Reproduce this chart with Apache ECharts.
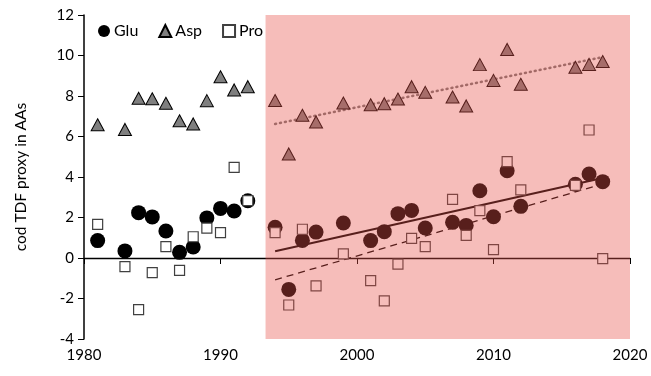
<!DOCTYPE html>
<html>
<head>
<meta charset="utf-8">
<script src="https://cdn.jsdelivr.net/npm/echarts@6/dist/echarts.min.js"></script>
<style>
  html, body { margin: 0; padding: 0; background: #fff; }
  #chart { width: 651px; height: 376px; }
</style>
</head>
<body>
<div id="chart"></div>
<script>
  // sampling years shared by all three amino acids
  const years = [1981, 1983, 1984, 1985, 1986, 1987, 1988, 1989, 1990, 1991, 1992,
    1994, 1995, 1996, 1997, 1999, 2001, 2002, 2003, 2004, 2005,
    2007, 2008, 2009, 2010, 2011, 2012, 2016, 2017, 2018];
  const glu = [0.86, 0.35, 2.24, 2.03, 1.33, 0.28, 0.54, 1.98, 2.45, 2.32, 2.83,
    1.52, -1.55, 0.87, 1.28, 1.73, 0.86, 1.3, 2.19, 2.35, 1.48,
    1.76, 1.61, 3.32, 2.04, 4.31, 2.55, 3.64, 4.15, 3.77];
  const asp = [6.58, 6.35, 7.89, 7.86, 7.64, 6.78, 6.62, 7.77, 8.95, 8.3, 8.46,
    7.78, 5.14, 7.05, 6.72, 7.65, 7.57, 7.62, 7.85, 8.46, 8.18,
    7.95, 7.51, 9.55, 8.77, 10.3, 8.58, 9.42, 9.56, 9.7];
  const pro = [1.66, -0.43, -2.55, -0.72, 0.56, -0.61, 1.05, 1.48, 1.25, 4.48, 2.83,
    1.25, -2.32, 1.42, -1.38, 0.2, -1.12, -2.12, -0.3, 0.97, 0.56,
    2.9, 1.12, 2.34, 0.41, 4.76, 3.36, 3.59, 6.32, -0.03];

  // linear trends (end points) for the recent period
  const gluTrend = [[1994, 0.33], [2018, 3.95]];
  const proTrend = [[1994, -1.08], [2018, 3.66]];
  const aspTrend = [[1994, 6.62], [2018, 9.92]];

  // shaded period
  const shadeStart = 1993.3;
  const shadeEnd = 2020;

  const xTicks = [1980, 2020, 10];
  const yTicks = [-4, 12, 2];

  const font = 'Lato, "Liberation Sans", sans-serif';
  const pair = (arr) => years.map((y, i) => [y, arr[i]]);

  const chart = echarts.init(document.getElementById('chart'));
  const option = {
    animation: false,
    textStyle: { fontFamily: font },
    grid: { left: 84, right: 21, top: 15, bottom: 37 },
    legend: {
      left: 93,
      top: 18,
      itemGap: 20,
      itemWidth: 12,
      itemHeight: 12,
      textStyle: { fontSize: 16, color: '#000', fontFamily: font, padding: [0, 0, 0, -1] },
      data: ['Glu', 'Asp', 'Pro'],
    },
    xAxis: {
      type: 'value',
      min: xTicks[0],
      max: xTicks[1],
      interval: xTicks[2],
      splitLine: { show: false },
      axisLine: { lineStyle: { color: '#000', width: 1.3 } },
      axisTick: { inside: false, length: 6, lineStyle: { color: '#000' } },
      axisLabel: { color: '#000', fontSize: 15, margin: 9, fontFamily: font, formatter: (v) => String(v) },
    },
    yAxis: {
      type: 'value',
      min: yTicks[0],
      max: yTicks[1],
      interval: yTicks[2],
      name: 'cod TDF proxy in AAs',
      nameLocation: 'middle',
      nameGap: 55,
      nameTextStyle: { color: '#000', fontSize: 15.5, fontFamily: font },
      splitLine: { show: false },
      axisLine: { show: true, lineStyle: { color: '#000', width: 1.5 } },
      axisTick: { show: true, length: 6, lineStyle: { color: '#000' } },
      axisLabel: { color: '#000', fontSize: 15, margin: 10, fontFamily: font },
    },
    series: [
      {
        name: 'aspTrend',
        type: 'line',
        data: aspTrend,
        symbol: 'none',
        lineStyle: { color: '#7a7a7a', width: 2.5, type: [1, 4], cap: 'round' },
        z: 1,
      },
      {
        name: 'gluTrend',
        type: 'line',
        data: gluTrend,
        symbol: 'none',
        lineStyle: { color: '#000', width: 2 },
        z: 1,
      },
      {
        name: 'proTrend',
        type: 'line',
        data: proTrend,
        symbol: 'none',
        lineStyle: { color: '#000', width: 1.3, type: [7, 5] },
        z: 1,
      },
      {
        name: 'Glu',
        type: 'scatter',
        data: pair(glu),
        symbol: 'circle',
        symbolSize: 15,
        itemStyle: { color: '#000', opacity: 1 },
      },
      {
        name: 'Asp',
        type: 'scatter',
        data: pair(asp),
        symbol: 'triangle',
        symbolSize: [13, 12],
        itemStyle: { color: '#7f7f7f', borderColor: '#000', borderWidth: 1, opacity: 1 },
      },
      {
        name: 'Pro',
        type: 'scatter',
        data: pair(pro),
        symbol: 'rect',
        symbolSize: 10,
        itemStyle: { color: '#fff', borderColor: '#404040', borderWidth: 1.2, opacity: 1 },
      },
      {
        name: 'shade',
        type: 'line',
        data: [],
        clip: false,
        z: 10,
        markArea: {
          silent: true,
          z: 10,
          itemStyle: { color: 'rgba(232, 82, 74, 0.38)' },
          data: [[{ xAxis: shadeStart, yAxis: yTicks[0] }, { xAxis: shadeEnd, yAxis: 12.3 }]],
        },
      },
    ],
  };
  chart.setOption(option);
</script>
</body>
</html>
